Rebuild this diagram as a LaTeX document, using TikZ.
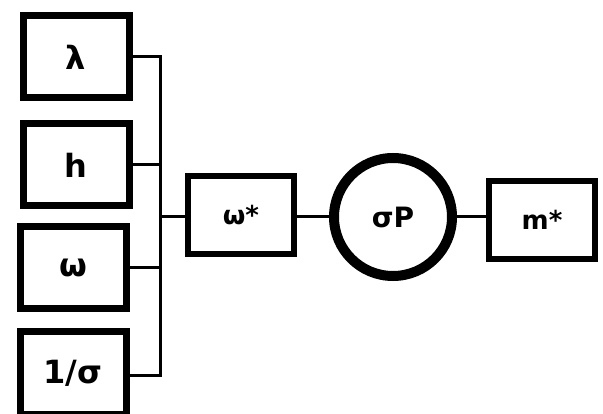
\documentclass[tikz,border=0pt]{standalone}
\usepackage{fontspec}
\setmainfont{DejaVu Sans}
\begin{document}
\begin{tikzpicture}[x=1pt,y=-1pt,
  inbox/.style={draw=black,line width=7pt,minimum width=106pt,minimum height=82pt,inner sep=0pt,font=\fontsize{32}{32}\selectfont\bfseries},
  midbox/.style={draw=black,line width=6.5pt,minimum width=106pt,minimum height=78pt,inner sep=0pt,font=\fontsize{26}{26}\selectfont\bfseries},
  ring/.style={circle,draw=black,line width=10pt,minimum size=118pt,inner sep=0pt,font=\fontsize{28}{28}\selectfont\bfseries},
  wire/.style={line width=3pt}]
\useasboundingbox (0,0) rectangle (603,414);
\fill[white] (0,0) rectangle (603,414);
\node[inbox] (lam) at (76,57) {λ};
\node[inbox] (h) at (76,165) {h};
\node[inbox] (om) at (73,268) {ω};
\node[inbox] (inv) at (73,373) {1/σ};
\node[midbox] (ws) at (241,215) {ω*};
\node[ring] (sp) at (393,217) {σP};
\node[midbox] (ms) at (542,220) {m*};
\coordinate (bt) at (160,57);
\coordinate (bb) at (160,375);
\coordinate (bm) at (160,217);
\draw[wire] (lam.east |- bt) -- (bt) -- (bb) -- (inv.east |- bb);
\draw[wire] (h.east) -- (h.east -| bt);
\draw[wire] (om.east) -- (om.east -| bt);
\draw[wire] (bm) -- (bm -| ws.west);
\draw[wire] (ws.east |- sp.west) -- (sp.west);
\draw[wire] (sp.east) -- (sp.east -| ms.west);
\end{tikzpicture}
\end{document}
